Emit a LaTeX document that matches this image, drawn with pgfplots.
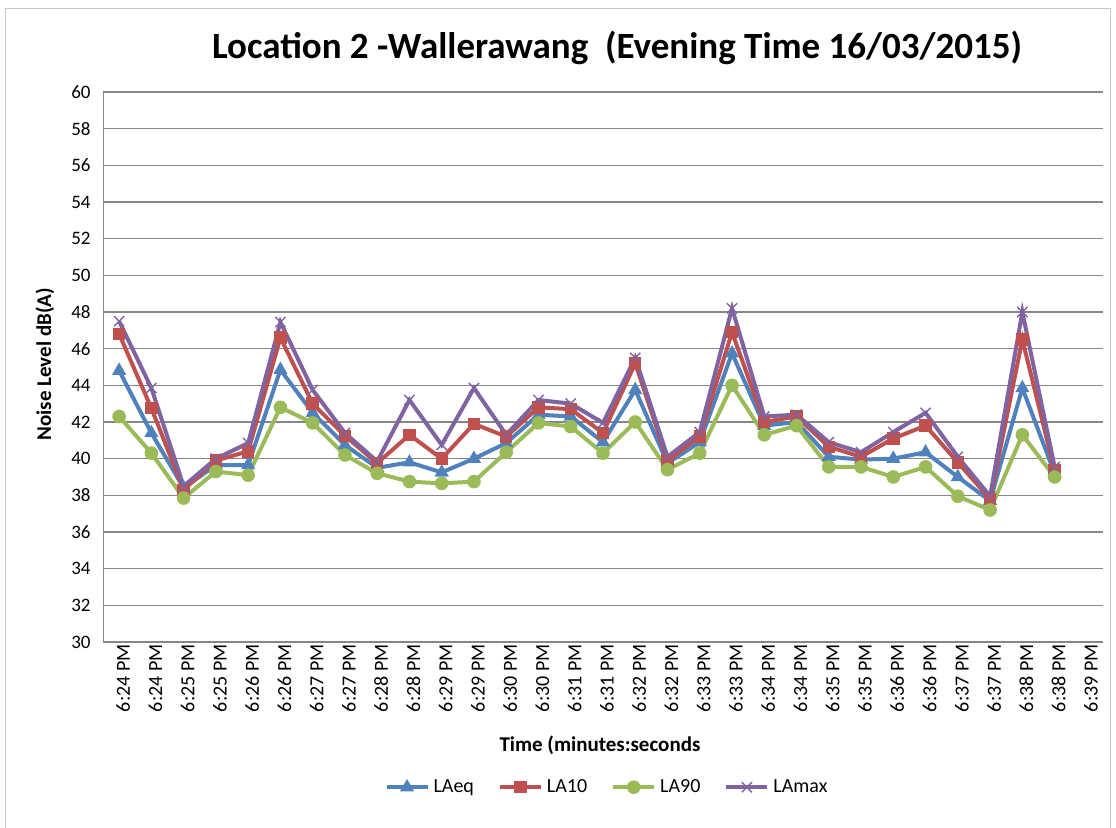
\documentclass[border=0pt]{standalone}
\usepackage{fontspec}
\setmainfont{Carlito}
\usepackage{pgfplots}
\usepackage{pgfplotstable}
\pgfplotsset{compat=1.18}

\definecolor{xblue}{RGB}{79,129,189}
\definecolor{xred}{RGB}{192,80,77}
\definecolor{xgreen}{RGB}{155,187,89}
\definecolor{xpurple}{RGB}{128,100,162}
\definecolor{gridgray}{RGB}{134,134,134}

% noise levels, one row per sample
\pgfplotstableread{
idx laeq la10 la90 lamax
0  44.8  46.8  42.3  47.5
1  41.4  42.75 40.3  43.85
2  38.4  38.3  37.85 38.5
3  39.65 39.9  39.3  40.0
4  39.65 40.4  39.1  40.85
5  44.85 46.6  42.8  47.45
6  42.5  43.0  41.95 43.75
7  40.75 41.25 40.2  41.4
8  39.5  39.75 39.2  39.85
9  39.8  41.3  38.75 43.2
10 39.25 40.0  38.65 40.75
11 40.0  41.9  38.75 43.85
12 40.85 41.2  40.35 41.3
13 42.4  42.8  41.95 43.2
14 42.3  42.7  41.75 43.0
15 40.9  41.4  40.3  41.95
16 43.75 45.2  42.0  45.5
17 39.75 39.9  39.4  40.1
18 40.9  41.2  40.3  41.45
19 45.75 46.9  44.0  48.2
20 41.8  42.0  41.3  42.3
21 42.0  42.3  41.8  42.4
22 40.1  40.65 39.55 40.9
23 39.95 40.1  39.55 40.35
24 40.0  41.1  39.0  41.45
25 40.35 41.8  39.55 42.5
26 39.0  39.8  37.95 40.1
27 37.7  37.8  37.2  37.95
28 43.85 46.5  41.3  48.0
29 39.2  39.35 39.0  39.55
}\noise

\begin{document}
\begin{tikzpicture}
\path[use as bounding box] (-51.5pt,-93pt) rectangle (506.5pt,321pt);
\draw[gray!45] (-49pt,-95pt) rectangle (503.5pt,317pt);
\begin{axis}[
  at={(0,0)}, anchor=south west,
  scale only axis,
  width=500pt, height=275pt,
  xmin=-0.5, xmax=30.5,
  ymin=30, ymax=60,
  ytick distance=2,
  xtick={0,...,30},
  xticklabels={6:24 PM,6:24 PM,6:25 PM,6:25 PM,6:26 PM,6:26 PM,6:27 PM,6:27 PM,6:28 PM,6:28 PM,6:29 PM,6:29 PM,6:30 PM,6:30 PM,6:31 PM,6:31 PM,6:32 PM,6:32 PM,6:33 PM,6:33 PM,6:34 PM,6:34 PM,6:35 PM,6:35 PM,6:36 PM,6:36 PM,6:37 PM,6:37 PM,6:38 PM,6:38 PM,6:39 PM},
  xticklabel style={rotate=90, anchor=east, font=\fontsize{10}{12}\selectfont, inner sep=1pt, yshift=-2pt},
  yticklabel style={font=\fontsize{9.5}{11}\selectfont, inner sep=1pt, xshift=-5pt},
  /pgf/number format/assume math mode=true,
  major tick length=0pt,
  axis x line*=bottom, axis y line*=left,
  axis line style={gridgray, -},
  ymajorgrids, grid style={gridgray, line width=0.6pt},
  every axis title shift=0pt,
  title={Location 2 -Wallerawang~~(Evening Time 16/03/2015)},
  title style={font=\bfseries\fontsize{18.5}{22}\selectfont, at={(axis description cs:0.514,1.08)}, anchor=center},
  xlabel={Time (minutes:seconds},
  xlabel style={font=\bfseries\fontsize{10.5}{12}\selectfont, at={(axis description cs:0.497,-0.187)}, anchor=center},
  ylabel={Noise Level dB(A)},
  ylabel style={font=\bfseries\fontsize{10.5}{12}\selectfont, at={(axis description cs:-0.058,0.505)}, anchor=center},
  legend columns=4,
  legend style={draw=none, fill=none, at={(axis description cs:0.505,-0.264)}, anchor=center,
    font=\fontsize{10}{12}\selectfont,
    /tikz/every even column/.append style={column sep=10pt}},
  legend image code/.code={
    \draw[mark repeat=2, mark phase=2] plot coordinates {(0cm,0cm) (0.36cm,0cm) (0.72cm,0cm)};},
  every axis plot/.append style={line width=2pt},
  clip=false,
]
\addplot[xblue, mark=triangle*, mark size=3.5pt, mark options={solid, line width=0.6pt}] table[x=idx, y=laeq] {\noise};
\addplot[xred, mark=square*, mark size=2.8pt, mark options={line width=0.6pt}] table[x=idx, y=la10] {\noise};
\addplot[xgreen, mark=*, mark size=3.1pt, mark options={line width=0.6pt}] table[x=idx, y=la90] {\noise};
\addplot[xpurple, mark=x, mark size=3.6pt, mark options={line width=0.7pt}] table[x=idx, y=lamax] {\noise};
\legend{LAeq,LA10,LA90,LAmax}
\end{axis}
\end{tikzpicture}
\end{document}
